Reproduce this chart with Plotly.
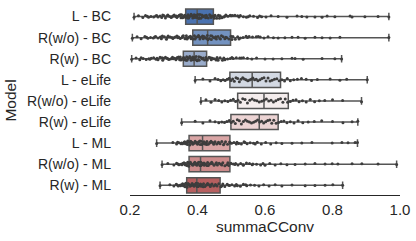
import plotly.graph_objects as go

models = ["L - BC", "R(w/o) - BC", "R(w) - BC",
          "L - eLife", "R(w/o) - eLife", "R(w) - eLife",
          "L - ML", "R(w/o) - ML", "R(w) - ML"]

q1 = [0.365, 0.386, 0.358, 0.496, 0.519, 0.499, 0.375, 0.375, 0.368]
median = [0.399, 0.430, 0.390, 0.562, 0.597, 0.583, 0.415, 0.409, 0.398]
q3 = [0.447, 0.498, 0.427, 0.646, 0.669, 0.639, 0.496, 0.496, 0.467]
lower = [0.212, 0.207, 0.205, 0.393, 0.410, 0.353, 0.279, 0.295, 0.289]
upper = [0.967, 0.967, 0.827, 0.903, 0.886, 0.875, 0.874, 0.990, 0.830]

colors = ["#4a72b0", "#7392c0", "#9aaccb", "#d3d9e3", "#f4eded",
          "#ecd4d4", "#d9a5a5", "#cc8b8b", "#b65f5f"]

pts_L_BC = [0.212, 0.225, 0.238, 0.246, 0.255, 0.262, 0.27, 0.276, 0.283, 0.289, 0.294, 0.3, 0.305,
            0.309, 0.314, 0.318, 0.322, 0.327, 0.331, 0.335, 0.339, 0.342, 0.346, 0.349, 0.353, 0.356,
            0.359, 0.362, 0.365, 0.368, 0.371, 0.374, 0.377, 0.38, 0.383, 0.386, 0.389, 0.392, 0.395,
            0.398, 0.401, 0.404, 0.407, 0.41, 0.413, 0.417, 0.42, 0.424, 0.428, 0.432, 0.436, 0.44,
            0.444, 0.448, 0.452, 0.457, 0.462, 0.467, 0.472, 0.478, 0.484, 0.49, 0.497, 0.504, 0.511,
            0.519, 0.527, 0.536, 0.545, 0.555, 0.566, 0.578, 0.59, 0.603, 0.618, 0.639, 0.665, 0.695,
            0.709, 0.724, 0.748, 0.769, 0.784, 0.807, 0.852, 0.858, 0.896, 0.935, 0.967,
            0.251, 0.279, 0.297, 0.312, 0.325, 0.337, 0.351, 0.361, 0.372, 0.381, 0.39, 0.397,
            0.405, 0.415, 0.426, 0.438, 0.45, 0.465, 0.481, 0.5, 0.523, 0.55, 0.584]
pts_Rwo_BC = [0.207, 0.221, 0.233, 0.244, 0.253, 0.261, 0.269, 0.276, 0.283, 0.29, 0.296, 0.302, 0.308,
              0.313, 0.319, 0.324, 0.329, 0.334, 0.339, 0.344, 0.349, 0.354, 0.358, 0.363, 0.367, 0.371,
              0.375, 0.379, 0.383, 0.387, 0.391, 0.395, 0.399, 0.403, 0.407, 0.411, 0.415, 0.419, 0.423,
              0.427, 0.431, 0.435, 0.439, 0.443, 0.447, 0.451, 0.456, 0.461, 0.466, 0.471, 0.476, 0.481,
              0.487, 0.493, 0.499, 0.505, 0.512, 0.519, 0.527, 0.535, 0.544, 0.553, 0.563, 0.574, 0.586,
              0.597, 0.609, 0.625, 0.639, 0.659, 0.68, 0.698, 0.719, 0.748, 0.769, 0.793, 0.822, 0.967,
              0.249, 0.273, 0.293, 0.311, 0.327, 0.342, 0.356, 0.369, 0.381, 0.393, 0.405, 0.417,
              0.429, 0.441, 0.454, 0.468, 0.484, 0.502, 0.523, 0.548, 0.58]
pts_Rw_BC = [0.205, 0.218, 0.229, 0.239, 0.248, 0.256, 0.263, 0.27, 0.277, 0.283, 0.289, 0.295, 0.3,
             0.305, 0.31, 0.315, 0.32, 0.324, 0.328, 0.332, 0.336, 0.34, 0.344, 0.347, 0.351, 0.354,
             0.357, 0.36, 0.363, 0.366, 0.369, 0.372, 0.375, 0.378, 0.381, 0.384, 0.387, 0.39, 0.393,
             0.396, 0.399, 0.402, 0.405, 0.409, 0.413, 0.417, 0.421, 0.425, 0.429, 0.434, 0.439, 0.444,
             0.449, 0.455, 0.461, 0.467, 0.474, 0.481, 0.489, 0.497, 0.506, 0.515, 0.525, 0.536, 0.548,
             0.561, 0.575, 0.6, 0.624, 0.65, 0.68, 0.689, 0.713, 0.769, 0.807, 0.827,
             0.233, 0.259, 0.28, 0.297, 0.312, 0.326, 0.338, 0.349, 0.359, 0.368, 0.377, 0.386,
             0.395, 0.404, 0.415, 0.427, 0.441, 0.458, 0.478, 0.502, 0.53]
pts_L_eLife = [0.393, 0.416, 0.437, 0.452, 0.461, 0.469, 0.476, 0.482, 0.488, 0.494, 0.499, 0.504,
               0.509, 0.514, 0.519, 0.524, 0.529, 0.534, 0.539, 0.544, 0.549, 0.554, 0.559, 0.564,
               0.569, 0.574, 0.579, 0.585, 0.591, 0.597, 0.603, 0.609, 0.615, 0.621, 0.628, 0.635,
               0.642, 0.65, 0.658, 0.666, 0.675, 0.685, 0.696, 0.708, 0.722, 0.738, 0.755, 0.793,
               0.822, 0.842, 0.903]
pts_Rwo_eLife = [0.41, 0.425, 0.44, 0.452, 0.463, 0.472, 0.481, 0.49, 0.498, 0.506, 0.513, 0.52, 0.527,
                 0.534, 0.541, 0.548, 0.555, 0.562, 0.569, 0.576, 0.583, 0.59, 0.597, 0.604, 0.611,
                 0.618, 0.625, 0.632, 0.639, 0.646, 0.653, 0.66, 0.667, 0.675, 0.683, 0.692, 0.701,
                 0.711, 0.722, 0.734, 0.747, 0.761, 0.777, 0.8, 0.83, 0.886]
pts_Rw_eLife = [0.353, 0.393, 0.416, 0.437, 0.452, 0.463, 0.472, 0.48, 0.487, 0.494, 0.5, 0.506, 0.512,
                0.518, 0.524, 0.53, 0.536, 0.542, 0.548, 0.554, 0.56, 0.566, 0.572, 0.578, 0.584, 0.59,
                0.596, 0.602, 0.608, 0.614, 0.62, 0.626, 0.633, 0.64, 0.648, 0.656, 0.665, 0.675, 0.686,
                0.698, 0.712, 0.728, 0.746, 0.768, 0.8, 0.831, 0.858, 0.875]
pts_L_ML = [0.279, 0.327, 0.338, 0.345, 0.351, 0.356, 0.36, 0.364, 0.368, 0.371, 0.374, 0.377, 0.38,
            0.383, 0.386, 0.389, 0.392, 0.395, 0.398, 0.401, 0.404, 0.407, 0.41, 0.413, 0.416, 0.419,
            0.422, 0.425, 0.428, 0.432, 0.436, 0.44, 0.444, 0.448, 0.452, 0.457, 0.462, 0.467, 0.472,
            0.477, 0.483, 0.489, 0.495, 0.501, 0.508, 0.515, 0.522, 0.53, 0.538, 0.547, 0.556, 0.566,
            0.577, 0.589, 0.602, 0.617, 0.633, 0.65, 0.68, 0.709, 0.739, 0.799, 0.828, 0.846, 0.867, 0.874,
            0.341, 0.353, 0.362, 0.37, 0.378, 0.385, 0.393, 0.4, 0.408, 0.417, 0.427, 0.438, 0.45,
            0.464, 0.479, 0.497, 0.517, 0.541, 0.571]
pts_Rwo_ML = [0.295, 0.312, 0.33, 0.338, 0.345, 0.351, 0.356, 0.36, 0.364, 0.368, 0.371, 0.374, 0.377,
              0.38, 0.383, 0.386, 0.389, 0.392, 0.395, 0.398, 0.401, 0.404, 0.407, 0.41, 0.413, 0.416,
              0.42, 0.424, 0.428, 0.432, 0.436, 0.44, 0.444, 0.449, 0.454, 0.459, 0.464, 0.469, 0.475,
              0.481, 0.487, 0.493, 0.499, 0.506, 0.513, 0.52, 0.528, 0.536, 0.545, 0.554, 0.564, 0.575,
              0.587, 0.6, 0.614, 0.63, 0.647, 0.665, 0.689, 0.719, 0.748, 0.778, 0.799, 0.816, 0.858,
              0.887, 0.935, 0.99,
              0.342, 0.354, 0.363, 0.372, 0.379, 0.387, 0.394, 0.402, 0.41, 0.419, 0.43, 0.442, 0.456,
              0.472, 0.49, 0.511, 0.535, 0.562, 0.594]
pts_Rw_ML = [0.289, 0.318, 0.33, 0.337, 0.343, 0.348, 0.352, 0.356, 0.36, 0.363, 0.366, 0.369, 0.372,
             0.375, 0.378, 0.381, 0.384, 0.387, 0.39, 0.393, 0.396, 0.399, 0.402, 0.405, 0.408, 0.411,
             0.414, 0.418, 0.422, 0.426, 0.43, 0.434, 0.438, 0.443, 0.448, 0.453, 0.458, 0.463, 0.469,
             0.475, 0.481, 0.488, 0.495, 0.502, 0.51, 0.518, 0.527, 0.536, 0.546, 0.557, 0.569, 0.582,
             0.596, 0.612, 0.63, 0.65, 0.68, 0.719, 0.748, 0.778, 0.801, 0.83,
             0.34, 0.35, 0.358, 0.365, 0.371, 0.377, 0.383, 0.389, 0.395, 0.401, 0.409, 0.417, 0.428,
             0.44, 0.455, 0.472, 0.492, 0.515, 0.543]

points = [pts_L_BC, pts_Rwo_BC, pts_Rw_BC, pts_L_eLife, pts_Rwo_eLife, pts_Rw_eLife,
          pts_L_ML, pts_Rwo_ML, pts_Rw_ML]

FONT = "Liberation Sans, Arial, sans-serif"
LINE = "#555555"

fig = go.Figure()
for i, m in enumerate(models):
    fig.add_trace(go.Box(
        y=[m], q1=[q1[i]], median=[median[i]], q3=[q3[i]],
        lowerfence=[lower[i]], upperfence=[upper[i]],
        orientation="h", fillcolor=colors[i],
        line=dict(color=LINE, width=1.5), whiskerwidth=0.5,
        width=0.72, boxpoints=False, hoverinfo="skip", showlegend=False))

for i, m in enumerate(models):
    fig.add_trace(go.Box(
        x=points[i], name=m, orientation="h", boxpoints="all",
        jitter=0.3, pointpos=0, width=0.72,
        fillcolor="rgba(0,0,0,0)", line=dict(width=0, color="rgba(0,0,0,0)"),
        marker=dict(size=3, color="#3d3d3d"),
        hoverinfo="skip", showlegend=False))

fig.update_layout(
    width=416, height=241,
    margin=dict(l=130, r=16, t=6, b=46),
    paper_bgcolor="white", plot_bgcolor="white",
    boxmode="overlay", showlegend=False,
    font=dict(family=FONT, color="#262626", size=14),
)
fig.update_xaxes(
    range=[0.2, 1.0], tickvals=[0.2, 0.4, 0.6, 0.8, 1.0],
    ticktext=["0.2", "0.4", "0.6", "0.8", "1.0"],
    showline=True, linecolor="#262626", linewidth=1.2,
    showgrid=False, zeroline=False, ticks="", automargin=False,
    tickfont=dict(size=15), ticklabelstandoff=1,
    title=dict(text="summaCConv", font=dict(size=15.5), standoff=2),
)
fig.update_yaxes(
    type="category", categoryorder="array", categoryarray=models,
    range=[8.46, -0.5], showline=False, showgrid=False, zeroline=False,
    ticks="", tickfont=dict(size=14), ticklabelstandoff=18, automargin=False,
    title=dict(text="Model", font=dict(size=15.5), standoff=6),
)

fig.write_html("out.html", config={"displayModeBar": False},
               post_script="document.body.style.margin='0';document.body.style.padding='0';")
